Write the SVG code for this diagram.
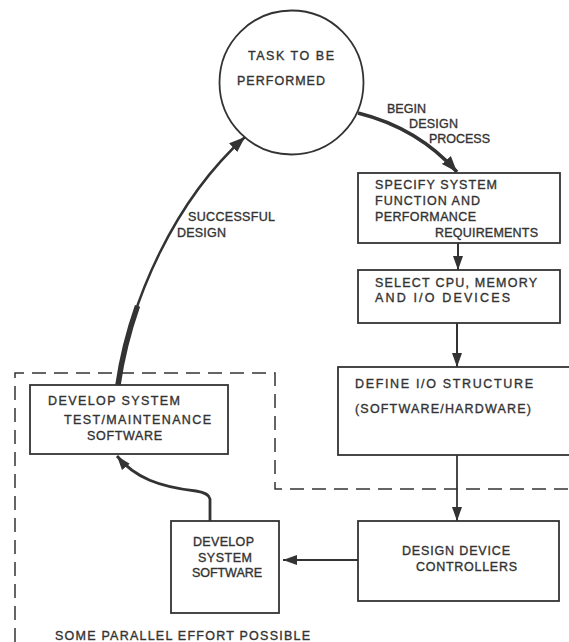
<svg xmlns="http://www.w3.org/2000/svg" width="569" height="642" viewBox="0 0 569 642">
<style>
.box{fill:#fff;stroke:#333;stroke-width:1.8}
.t{font-family:"Liberation Sans",Arial,sans-serif;font-size:12.5px;fill:#333;stroke:#333;stroke-width:0.35}
.ln{fill:none;stroke:#333}
.dash{fill:none;stroke:#333;stroke-width:1.5;stroke-dasharray:14 8}
</style>
<defs>
<marker id="ah" markerUnits="userSpaceOnUse" markerWidth="18" markerHeight="14" refX="16" refY="7" orient="auto">
<path d="M0,1 L16,7 L0,13 Z" fill="#333"/>
</marker>
<marker id="ahs" markerUnits="userSpaceOnUse" markerWidth="16" markerHeight="12" refX="14" refY="6" orient="auto">
<path d="M0,1 L14,6 L0,11 Z" fill="#333"/>
</marker>
</defs>
<rect width="569" height="642" fill="#fff"/>
<g id="boundary">
<path class="dash" d="M15,642 V373 H275 V489 H569"/>
<text class="t" x="55" y="640" textLength="255" lengthAdjust="spacing">SOME PARALLEL EFFORT POSSIBLE</text>
</g>
<g id="task">
<circle cx="291.5" cy="82.5" r="72" fill="#fff" stroke="#333" stroke-width="1.8"/>
<text class="t" x="248" y="60" textLength="86" lengthAdjust="spacing">TASK TO BE</text>
<text class="t" x="237" y="85" textLength="88" lengthAdjust="spacing">PERFORMED</text>
</g>
<g id="specify">
<rect class="box" x="358" y="173" width="202" height="70"/>
<text class="t" x="375" y="189" textLength="122" lengthAdjust="spacing">SPECIFY SYSTEM</text>
<text class="t" x="375" y="205" textLength="105" lengthAdjust="spacing">FUNCTION AND</text>
<text class="t" x="375" y="221" textLength="101" lengthAdjust="spacing">PERFORMANCE</text>
<text class="t" x="435" y="237" textLength="103" lengthAdjust="spacing">REQUIREMENTS</text>
</g>
<g id="select">
<rect class="box" x="358" y="270" width="202" height="53"/>
<text class="t" x="375" y="287" textLength="162" lengthAdjust="spacing">SELECT CPU, MEMORY</text>
<text class="t" x="375" y="302" textLength="135" lengthAdjust="spacing">AND I/O DEVICES</text>
</g>
<g id="define">
<rect class="box" x="338" y="367" width="240" height="88"/>
<text class="t" x="355" y="388" textLength="178" lengthAdjust="spacing">DEFINE I/O STRUCTURE</text>
<text class="t" x="355" y="413" textLength="176" lengthAdjust="spacing">(SOFTWARE/HARDWARE)</text>
</g>
<g id="controllers">
<rect class="box" x="358" y="521" width="201" height="80"/>
<text class="t" x="402" y="555" textLength="108" lengthAdjust="spacing">DESIGN DEVICE</text>
<text class="t" x="416" y="571" textLength="101" lengthAdjust="spacing">CONTROLLERS</text>
</g>
<g id="syssoft">
<rect class="box" x="171" y="521" width="108" height="92"/>
<text class="t" x="193" y="546" textLength="61" lengthAdjust="spacing">DEVELOP</text>
<text class="t" x="198" y="562" textLength="54" lengthAdjust="spacing">SYSTEM</text>
<text class="t" x="192" y="577" textLength="70" lengthAdjust="spacing">SOFTWARE</text>
</g>
<g id="testsoft">
<rect class="box" x="30" y="385" width="198" height="69"/>
<text class="t" x="48" y="405" textLength="132" lengthAdjust="spacing">DEVELOP SYSTEM</text>
<text class="t" x="64" y="424" textLength="147" lengthAdjust="spacing">TEST/MAINTENANCE</text>
<text class="t" x="87" y="440" textLength="75" lengthAdjust="spacing">SOFTWARE</text>
</g>
<g id="connectors">
<path class="ln" stroke-width="3.5" d="M358,113 Q418,128 457,172" marker-end="url(#ah)"/>
<text class="t" x="387" y="113" textLength="39" lengthAdjust="spacing">BEGIN</text>
<text class="t" x="409" y="128" textLength="49" lengthAdjust="spacing">DESIGN</text>
<text class="t" x="429" y="143" textLength="61" lengthAdjust="spacing">PROCESS</text>
<line class="ln" stroke-width="2" x1="458" y1="243" x2="458" y2="270" marker-end="url(#ahs)"/>
<line class="ln" stroke-width="2" x1="457" y1="323" x2="457" y2="367" marker-end="url(#ahs)"/>
<line class="ln" stroke-width="1.8" x1="457" y1="455" x2="457" y2="521" marker-end="url(#ahs)"/>
<line class="ln" stroke-width="1.8" x1="358" y1="560" x2="283" y2="560" marker-end="url(#ahs)"/>
<path class="ln" stroke-width="2.8" d="M210,521 L210,499 Q209,493 196,491 C160,487 135,478 117,456" marker-end="url(#ahs)"/>
<path class="ln" stroke-width="2.5" d="M118,385 C130,300 175,200 245,137" marker-end="url(#ah)"/>
<path class="ln" stroke-width="5.5" stroke="#111" d="M118,385 C121.6,359.5 128.17,332.65 137.5,305.9"/>
<text class="t" x="188" y="221" textLength="87" lengthAdjust="spacing">SUCCESSFUL</text>
<text class="t" x="177" y="237" textLength="49" lengthAdjust="spacing">DESIGN</text>
</g>
</svg>
